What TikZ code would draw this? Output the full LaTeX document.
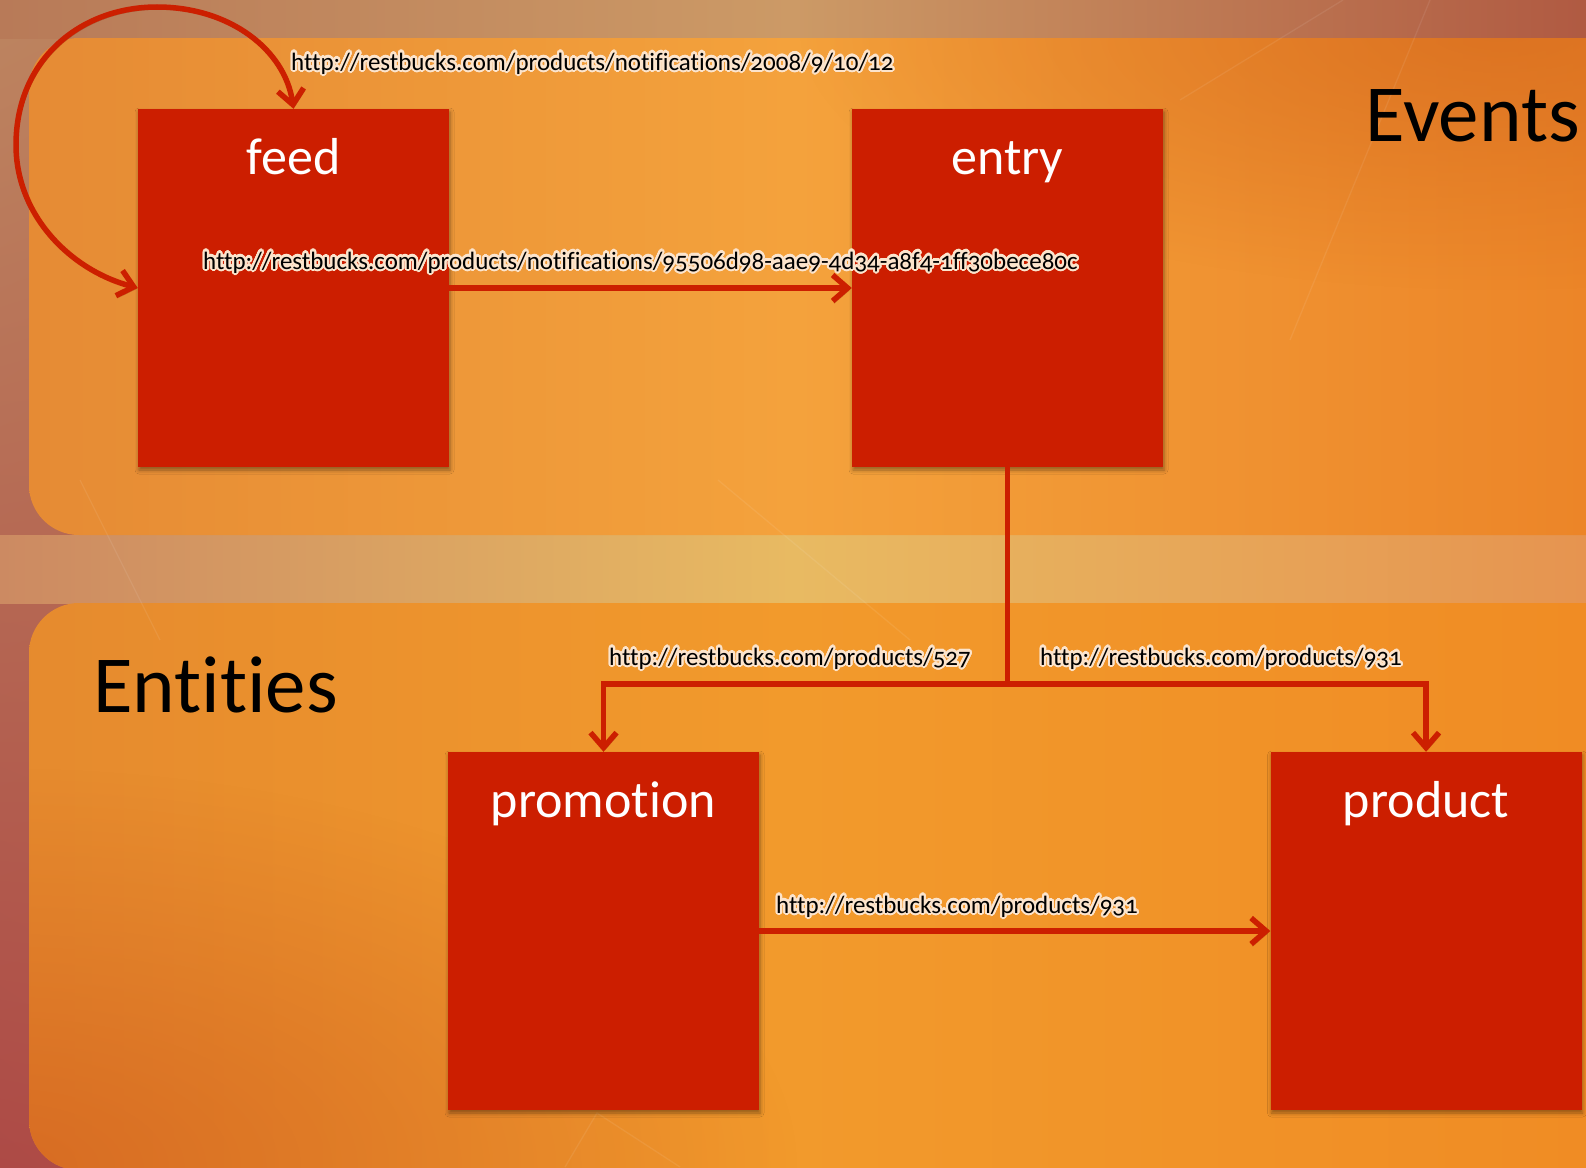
\documentclass[tikz,border=0pt]{standalone}
\usepackage{fontspec}
\setmainfont{Carlito}[Numbers=OldStyle, Ligatures=NoCommon]
\usepackage[copies]{contour}
\usetikzlibrary{arrows.meta,shadows.blur,fadings,shadings}

\definecolor{boxred}{HTML}{CC1E00}
\definecolor{linered}{HTML}{CC1F00}
\definecolor{halo}{HTML}{FCE4CC}
\definecolor{shadowbrown}{HTML}{5A2A08}
% backdrop
\definecolor{bgUL}{HTML}{BD8560}
\definecolor{bgUR}{HTML}{B25A42}
\definecolor{bgLL}{HTML}{AD4A46}
\definecolor{bgLR}{HTML}{C06040}
\definecolor{topL}{HTML}{B87A58}
\definecolor{topM}{HTML}{CC9A66}
\definecolor{topR}{HTML}{B05A42}
\definecolor{midL}{HTML}{CC8A62}
\definecolor{midM}{HTML}{E8BA62}
\definecolor{midR}{HTML}{E69450}
% panels
\definecolor{evL}{HTML}{E58A34}
\definecolor{evM}{HTML}{F4A23C}
\definecolor{evR}{HTML}{EC8528}
\definecolor{evDark}{HTML}{D86E20}
\definecolor{enL}{HTML}{E58A2E}
\definecolor{enM}{HTML}{F29A2C}
\definecolor{enR}{HTML}{F08C24}
\definecolor{enDark}{HTML}{D46420}

\contourlength{2.1pt}
\contournumber{32}
\newcommand\urltext[1]{\contour{halo}{#1}}

\tikzfading[name=spotfade, inner color=transparent!0, outer color=transparent!100]

\begin{document}
\begin{tikzpicture}[x=1pt,y=-1pt,
  box/.style={fill=boxred, minimum width=311pt, minimum height=358pt, inner sep=0pt,
    blur shadow={shadow xshift=1pt, shadow yshift=-3pt, shadow blur radius=4pt,
      shadow opacity=40}},
  boxtitle/.style={anchor=base, inner sep=0pt, text=white, font=\fontsize{52}{60}\selectfont},
  zone/.style={inner sep=0pt, text=black, font=\fontsize{81}{90}\selectfont},
  uri/.style={anchor=base west, inner sep=0pt, text=black, font=\fontsize{25}{30}\selectfont},
  link/.style={draw=linered, line width=5.5pt,
    preaction={draw=shadowbrown, draw opacity=0.3, transform canvas={xshift=1.5pt, yshift=-2.5pt}}},
  barb/.tip={Straight Barb[length=15pt, width=26pt]},
  tip/.style={-barb},
  streak/.style={draw=white, draw opacity=0.08, line width=1.3pt},
]
\useasboundingbox (0,0) rectangle (1586,1167);
\clip (0,0) rectangle (1586,1167);

% backdrop
\shade[upper left=bgUL, upper right=bgUR, lower left=bgLL, lower right=bgLR] (0,0) rectangle (1586,1167);
\shade[left color=topL, right color=topR, middle color=topM] (0,0) rectangle (1586,38);
\shade[left color=midL, right color=midR, middle color=midM] (0,535) rectangle (1586,603);

% events panel
\begin{scope}
  \clip[rounded corners=50pt] (29,38) rectangle (1640,535);
  \shade[left color=evL, right color=evR, middle color=evM] (0,38) rectangle (1586,535);
  \fill[evDark, path fading=spotfade, fill opacity=0.8] (1500,30) ellipse (700pt and 260pt);
\end{scope}

% entities panel
\begin{scope}
  \clip[rounded corners=50pt] (29,603) rectangle (1640,1170);
  \shade[left color=enL, right color=enR, middle color=enM] (0,603) rectangle (1586,1170);
  \fill[enDark, path fading=spotfade, fill opacity=0.8] (0,1167) ellipse (800pt and 400pt);
\end{scope}

% faint light streaks
\draw[streak] (1430,0) -- (1290,340);
\draw[streak] (1343,0) -- (1180,100);
\draw[streak] (718,480) -- (910,640);
\draw[streak] (80,480) -- (160,640);
\draw[streak] (565,1167) -- (597,1113) -- (680,1167);

% zone titles
\node[zone, anchor=base east] (events) at (1580,141) {Events};
\node[zone, anchor=base west] (entities) at (93,712) {Entities};

% resources
\node[box] (feed) at (293.5,288) {};
\node[box] (entry) at (1007.5,288) {};
\node[box] (promotion) at (603.5,931) {};
\node[box] (product) at (1426,931) {};

\node[boxtitle] (feedname) at ([yshift=-66pt]feed.north) {feed};
\node[boxtitle] (entryname) at ([yshift=-66pt]entry.north) {entry};
\node[boxtitle] (promotionname) at ([yshift=-66pt]promotion.north) {promotion};
\node[boxtitle] (productname) at ([yshift=-66pt]product.north) {product};

% links
\draw[link, barb-barb] (feed.west) .. controls (70,270) and (16,215) .. (16,145)
  .. controls (16,60) and (80,7) .. (157,7)
  .. controls (230,7) and (285,50) .. (feed.north);
\draw[link, tip] (feed.east) -- (entry.west);
\coordinate (fork) at (1007.5,684);
\draw[link] (entry.south) -- (fork);
\draw[link, tip] (fork) -| (promotion.north);
\draw[link, tip] (fork) -| (product.north);
\draw[link, tip] (promotion.east) -- (product.west);

% link URIs
\node[uri] (uriloop) at (291,70) {\urltext{http://restbucks.com/products/notifications/2008/9/10/12}};
\node[uri] (urientry) at (203,269) {\urltext{http://restbucks.com/products/notifications/95506d98-aae9-4d34-a8f4-1ff30bece80c}};
\node[uri] (uripromo) at (609,665) {\urltext{http://restbucks.com/products/527}};
\node[uri] (uriproduct) at (1040,665) {\urltext{http://restbucks.com/products/931}};
\node[uri] (urinext) at (776,913) {\urltext{http://restbucks.com/products/931}};
\end{tikzpicture}
\end{document}
